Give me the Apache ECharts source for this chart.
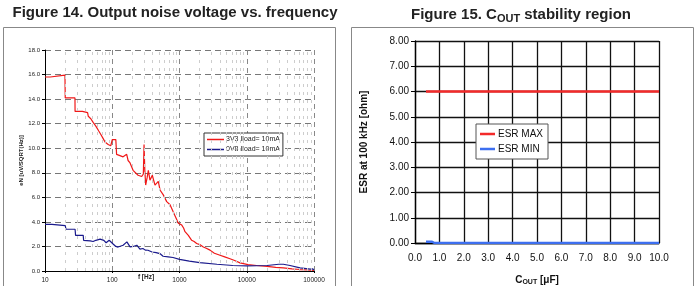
<!DOCTYPE html>
<html>
<head>
<meta charset="utf-8">
<script src="https://cdn.jsdelivr.net/npm/echarts@6/dist/echarts.min.js"></script>
<style>
  html, body { margin: 0; padding: 0; background: #fff; }
  #chart { width: 696px; height: 286px; }
</style>
</head>
<body>
<div id="chart"></div>
<script>
// figure 14 - output noise (f in Hz, eN in uV/sqrt(Hz))
const freq3v3 = [10, 12, 12.7, 19.8, 20, 27.9, 28, 36, 37, 43, 44, 48, 52, 57, 63, 68, 73, 78, 87, 95, 98, 100, 113, 116, 122, 130,
    145, 164, 172, 184, 204, 242, 274, 290, 297, 305, 314, 330, 344, 364, 394, 432, 484, 513, 574, 645, 723, 809, 857, 908,
    959, 1080, 1150, 1208, 1280, 1353, 1430, 1518, 1650, 1801, 2000, 2261, 2500, 2843, 3300, 4003, 4700, 5633, 6600, 7943,
    10440, 14000, 20000, 27000, 35000, 47000, 62000, 80000, 100000]
const noise3v3 = [15.8, 15.8, 15.95, 15.95, 14.1, 14.1, 13.0, 13.0, 12.9, 12.9, 12.6, 12.4, 12.1, 11.8, 11.4, 11.1, 10.8, 10.5, 10.3, 10.2, 10.3, 10.7, 10.7, 9.5, 9.4, 9.4,
    9.3, 9.5, 9.0, 8.8, 8.2, 7.8, 7.7, 7.9, 10.3, 8.2, 7.0, 7.6, 8.2, 7.4, 7.8, 7.0, 7.3, 6.6, 6.2, 5.65, 5.4, 4.8, 4.5, 4.2,
    3.9, 3.74, 3.5, 3.2, 3.1, 2.9, 2.75, 2.5, 2.4, 2.24, 2.15, 1.96, 1.85, 1.7, 1.45, 1.28, 1.15, 1.0, 0.85, 0.66,
    0.52, 0.45, 0.38, 0.3, 0.25, 0.18, 0.12, 0.08, 0.05]

const freq0v8 = [10, 12.7, 13, 20, 20.5, 28, 28.5, 37, 37.5, 47, 52, 57, 66, 75, 81, 90, 96, 103, 113, 122, 145, 155, 165, 184, 205,
    232, 258, 272, 286, 310, 340, 390, 450, 510, 570, 680, 800, 1000, 1400, 2000, 3600, 6200, 10000, 20000, 30000, 35000,
    44000, 62000, 88000, 95000, 100000]
const noise0v8 = [3.8, 3.8, 3.7, 3.7, 3.4, 3.4, 2.9, 2.9, 2.5, 2.45, 2.4, 2.5, 2.6, 2.5, 2.3, 2.5, 2.4, 2.2, 2.0, 1.95, 2.1, 2.0, 2.37, 1.96, 2.0,
    2.1, 1.78, 1.9, 1.83, 1.7, 1.69, 1.55, 1.5, 1.42, 1.2, 1.15, 1.1, 0.95, 0.8, 0.68, 0.55, 0.45, 0.42, 0.45, 0.55, 0.55,
    0.45, 0.25, 0.15, 0.18, 0.1]

// figure 15 - stability region (Cout in uF, ESR in ohm)
const capMax = [0.45, 10]
const esrMax = [6, 6]
const capMin = [0.45, 0.7, 0.8, 10]
const esrMin = [0.05, 0.05, 0, 0]

// light dashed minor grid inside each decade
const decades = [10, 100, 1000, 10000]
const minorSteps = [2, 3, 4, 5, 6, 7, 8, 9]
let minorFreqs = []
decades.forEach(d => minorSteps.forEach(s => minorFreqs.push(d * s)))

const pairs = (xs, ys) => xs.map((x, i) => [x, ys[i]])

const font = 'Liberation Sans, Arial, sans-serif'

var dom = document.getElementById('chart')
var chart = echarts.init(dom, null, { renderer: 'canvas' })

var option = {
    animation: false,
    textStyle: { fontFamily: font },
    grid: [
        { left: 45, top: 50, width: 269, height: 221, containLabel: false, outerBoundsMode: 'none' },
        { left: 415, top: 41, width: 244, height: 202, containLabel: false, outerBoundsMode: 'none' }
    ],
    xAxis: [
        {
            gridIndex: 0,
            type: 'log',
            logBase: 10,
            min: 10,
            max: 100000,
            axisLine: { lineStyle: { color: '#000', width: 1 } },
            axisTick: { show: true, length: 2, lineStyle: { color: '#000' } },
            axisLabel: { fontSize: 6.5, color: '#222', margin: 6, formatter: v => String(Math.round(v)) },
            splitLine: { show: true, lineStyle: { color: '#888', type: [5, 4], width: 1 } }
        },
        {
            gridIndex: 1,
            type: 'value',
            min: 0,
            max: 10,
            interval: 1,
            axisLine: { lineStyle: { color: '#000', width: 1.3 } },
            axisTick: { show: false },
            axisLabel: { fontSize: 10, color: '#111', margin: 10, formatter: v => v.toFixed(1) },
            splitLine: { show: true, lineStyle: { color: '#111', width: 1.3 } },
            name: '{a|C}{b|OUT}{a| [μF]}',
            nameLocation: 'middle',
            nameGap: 31,
            nameTextStyle: {
                rich: {
                    a: { fontSize: 10, fontWeight: 'bold', color: '#111', fontFamily: font },
                    b: { fontSize: 7, fontWeight: 'bold', color: '#111', fontFamily: font, padding: [5, 0, 0, 0] }
                }
            }
        }
    ],
    yAxis: [
        {
            gridIndex: 0,
            type: 'value',
            min: 0,
            max: 18,
            interval: 2,
            axisLine: { show: true, lineStyle: { color: '#000', width: 1 } },
            axisTick: { show: true, length: 3, lineStyle: { color: '#000' } },
            axisLabel: { fontSize: 6, color: '#222', margin: 5, formatter: v => v.toFixed(1) },
            splitLine: { show: true, lineStyle: { color: '#777', type: [6, 4], width: 1 } },
            name: 'eN [uV/SQRT(Hz)]',
            nameLocation: 'middle',
            nameGap: 21,
            nameTextStyle: { fontSize: 6, fontWeight: 'bold', color: '#222' }
        },
        {
            gridIndex: 1,
            type: 'value',
            min: 0,
            max: 8,
            interval: 1,
            axisLine: { show: true, lineStyle: { color: '#000', width: 1.3 } },
            axisTick: { show: true, length: 4, lineStyle: { color: '#000' } },
            axisLabel: { fontSize: 10, color: '#111', margin: 6, formatter: v => v.toFixed(2) },
            splitLine: { show: true, lineStyle: { color: '#111', width: 1.3 } },
            name: 'ESR at 100 kHz [ohm]',
            nameLocation: 'middle',
            nameGap: 46,
            nameTextStyle: { fontSize: 10, fontWeight: 'bold', color: '#111' }
        }
    ],
    legend: [
        {
            data: ['3V3 Iload= 10mA', '0V8 Iload= 10mA'],
            left: 204,
            top: 133,
            orient: 'vertical',
            backgroundColor: '#fff',
            borderColor: '#333',
            borderWidth: 1,
            padding: [3, 3, 3, 3],
            itemGap: 3,
            icon: 'rect',
            itemWidth: 17,
            itemHeight: 1.5,
            textStyle: { fontSize: 7, color: '#222', padding: [0, 0, 0, -3] }
        },
        {
            data: ['ESR MAX', 'ESR MIN'],
            left: 476,
            top: 124,
            orient: 'vertical',
            backgroundColor: '#fff',
            borderColor: '#555',
            borderWidth: 1,
            padding: [5, 5, 5, 4],
            itemGap: 5,
            icon: 'rect',
            itemWidth: 15,
            itemHeight: 2.5,
            textStyle: { fontSize: 10, color: '#111', padding: [0, 0, 0, -2] }
        }
    ],
    series: [
        {
            name: '3V3 Iload= 10mA',
            type: 'line',
            xAxisIndex: 0,
            yAxisIndex: 0,
            symbol: 'none',
            data: pairs(freq3v3, noise3v3),
            lineStyle: { color: '#f01818', width: 1.2 },
            itemStyle: { color: '#f01818' },
            z: 3,
            markLine: {
                silent: true,
                symbol: ['none', 'none'],
                label: { show: false },
                lineStyle: { color: '#cdcdcd', type: [3, 5], width: 1 },
                data: minorFreqs.map(f => ({ xAxis: f }))
            }
        },
        {
            name: '0V8 Iload= 10mA',
            type: 'line',
            xAxisIndex: 0,
            yAxisIndex: 0,
            symbol: 'none',
            data: pairs(freq0v8, noise0v8),
            lineStyle: { color: '#1a1a8c', width: 1.2 },
            itemStyle: { color: '#1a1a8c' },
            z: 4
        },
        {
            name: 'ESR MAX',
            type: 'line',
            xAxisIndex: 1,
            yAxisIndex: 1,
            symbol: 'none',
            data: pairs(capMax, esrMax),
            lineStyle: { color: '#f32a2a', width: 2.5 },
            itemStyle: { color: '#f32a2a' },
            z: 5
        },
        {
            name: 'ESR MIN',
            type: 'line',
            xAxisIndex: 1,
            yAxisIndex: 1,
            symbol: 'none',
            data: pairs(capMin, esrMin),
            lineStyle: { color: '#3d6ff0', width: 2.5 },
            itemStyle: { color: '#3d6ff0' },
            z: 5
        }
    ],
    graphic: [
        { type: 'rect', shape: { x: 3.5, y: 27.5, width: 332, height: 270 }, style: { fill: 'none', stroke: '#888', lineWidth: 1 }, silent: true },
        { type: 'rect', shape: { x: 351.5, y: 27.5, width: 342, height: 270 }, style: { fill: 'none', stroke: '#888', lineWidth: 1 }, silent: true },
        {
            type: 'text', x: 175, y: 5,
            style: { text: 'Figure 14. Output noise voltage vs. frequency', textAlign: 'center', font: 'bold 15px ' + font, fill: '#222' }
        },
        {
            type: 'text', x: 521, y: 5,
            style: {
                text: '{a|Figure 15. C}{b|OUT}{a| stability region}',
                textAlign: 'center',
                rich: {
                    a: { font: 'bold 15px ' + font, fill: '#222' },
                    b: { font: 'bold 11px ' + font, fill: '#222', padding: [8, 0, 0, 0] }
                }
            }
        },
        {
            type: 'text', x: 146, y: 274,
            style: { text: 'f [Hz]', textAlign: 'center', font: 'bold 6.5px ' + font, fill: '#222' }
        }
    ]
}

chart.setOption(option)
window.addEventListener('resize', chart.resize)
</script>
</body>
</html>
